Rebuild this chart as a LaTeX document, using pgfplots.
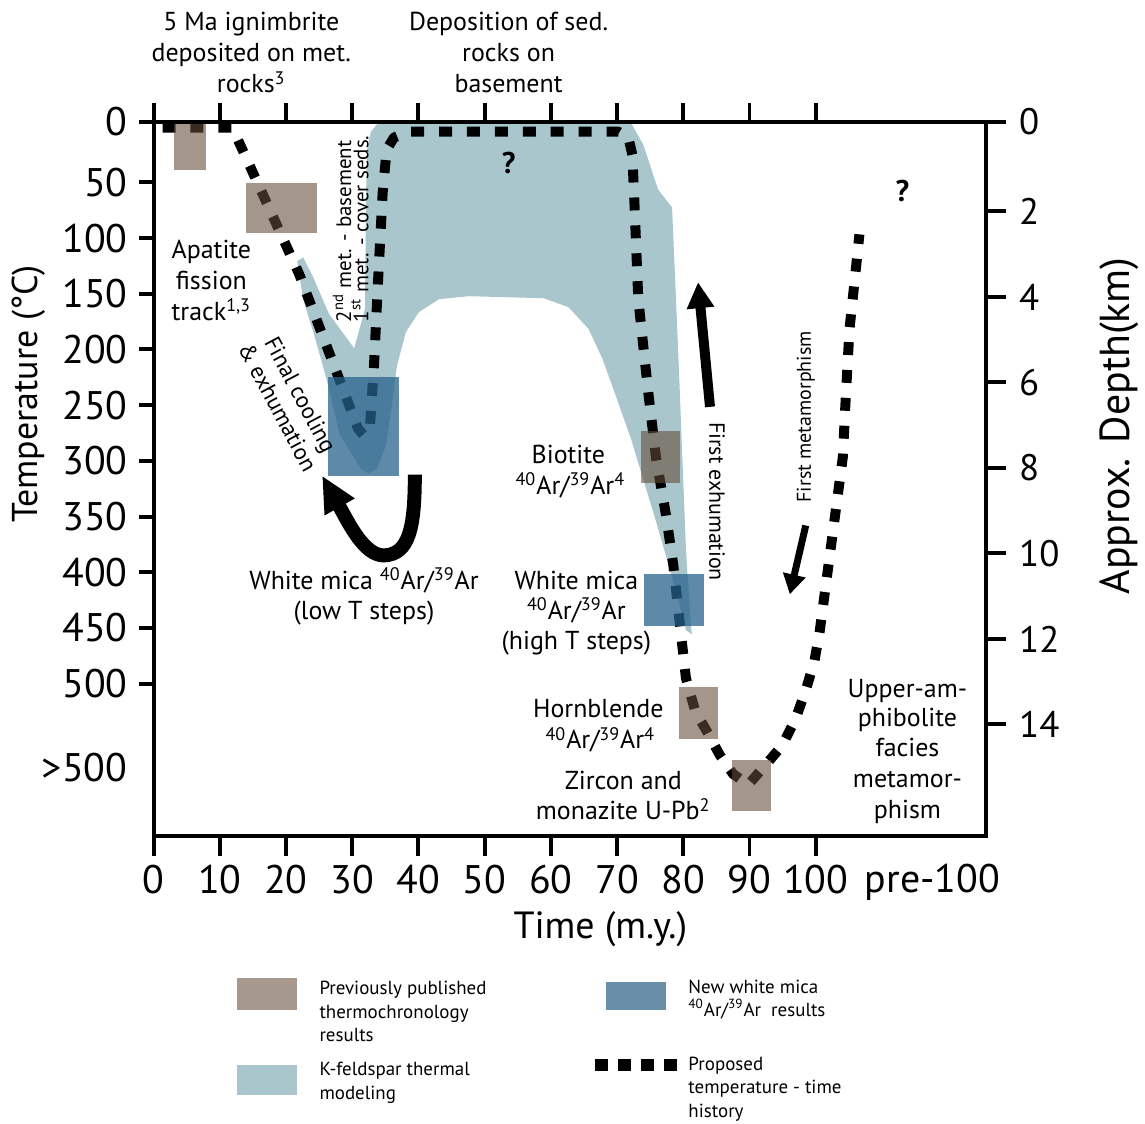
\documentclass[border=0pt]{standalone}
\usepackage{pgfplots}
\pgfplotsset{compat=1.18}
\usepackage{fontspec}
\setmainfont{PT Sans}
\usetikzlibrary{arrows.meta}
\definecolor{brownbox}{RGB}{100,76,56}
\definecolor{kfs}{RGB}{169,198,204}
\definecolor{bluebox}{RGB}{40,98,140}
\definecolor{brownleg}{RGB}{166,152,140}
\definecolor{blueleg}{RGB}{104,142,168}
\newcommand{\fs}[2]{\fontsize{#1}{#2}\selectfont}
\newcommand{\ArAr}{\textsuperscript{40}Ar/\textsuperscript{39}Ar}
\begin{document}
\begin{tikzpicture}
\begin{scope}[x=0.5pt,y=-0.5pt]
\path[use as bounding box] (0,0) rectangle (1145,1127);
\end{scope}
% main axis: time vs temperature
\begin{axis}[
  at={(77pt,-419pt)}, anchor=south west,
  width=417.5pt, height=358pt, scale only axis,
  xmin=0, xmax=125.75, ymin=-4.5, ymax=636.5, y dir=reverse,
  axis on top,
  axis line style={line width=2pt},
  major tick length=0pt,
  xtick={0,10,20,30,40,50,60,70,80,90,100},
  xticklabels={0,10,20,30,40,50,60,70,80,90,100},
  xticklabel pos=lower,
  ytick={-4.5,50,100,150,200,250,300,350,400,450,500},
  yticklabels={0,50,100,150,200,250,300,350,400,450,500},
  ytick pos=left,
  tick label style={font=\fs{20}{24}},
  xticklabel style={yshift=-11pt},
  yticklabel style={xshift=-9.5pt},
  /pgf/number format/assume math mode=true,
]
% K-feldspar thermal modeling envelope
\addplot[fill=kfs, draw=none] coordinates {
 (21.69,120.9) (22.59,117.3) (24.10,135.2) (26.51,168.3) (30.3,199.0)
 (31.93,163.8) (32.08,65.4) (32.23,20.6) (32.83,4.5) (33.7,-1.8) (34.8,-4.5)
 (72.0,-4.5) (73.95,16.1) (76.2,56.4) (78.3,72.5) (78.9,154.9) (79.4,226.5)
 (79.8,289.2) (80.4,378.7) (81.0,436.9) (81.3,455.7) (80.4,452.1) (78.8,414.5)
 (75.75,351.8) (72.1,280.2) (69.7,239.9) (67.8,208.6) (65.7,181.7) (62.65,162.0)
 (58.9,154.0) (47.6,152.2) (43.1,154.9) (40.06,166.5) (38.1,184.4) (36.75,214.9)
 (36.0,248.9) (35.1,286.5) (33.7,307.1) (32.5,311.5) (31.3,307.1) (28.1,276)
 (26.1,226) (24.4,190) (22.6,155)
};
% proposed temperature-time history
\addplot[black, line width=5pt, dash pattern=on 6.5pt off 7.5pt, line join=round] coordinates {
 (1.36,0.9) (11.9,0.9) (22.0,132.5) (30.9,271.3) (31.8,277.5) (32.7,266.8)
 (33.3,213.1) (33.9,138.8) (34.6,59.1) (35.2,20.6) (36.3,9.8) (38.55,4.5)
 (70.2,4.5) (71.7,9.8) (72.3,25.1) (72.6,65.4) (73.2,154.9) (74.7,238.1)
 (75.9,298.1) (77.4,349.1) (78.5,393.9) (79.5,447.6) (80.4,495.1) (81.8,524.6)
 (83.7,544.3) (85.5,564.0) (87.5,581.0) (89.8,590.9) (92.3,573.9) (95.0,555.1)
 (97.0,530.9) (98.5,505.8) (99.8,479.9) (100.6,453.0) (101.8,399.3) (103.0,345.6)
 (104.1,296.3) (104.5,247.1) (105.1,181.7) (105.9,137.0) (106.6,96.7)
};
% previously published thermochronology results
\addplot[fill=brownbox, fill opacity=0.59, draw=none] coordinates {(3.16,-4.5)(7.98,-4.5)(7.98,38.5)(3.16,38.5)};
\addplot[fill=brownbox, fill opacity=0.59, draw=none] coordinates {(14.0,51.0)(24.7,51.0)(24.7,95.8)(14.0,95.8)};
\addplot[fill=brownbox, fill opacity=0.59, draw=none] coordinates {(73.6,273.1)(79.5,273.1)(79.5,319.6)(73.6,319.6)};
\addplot[fill=brownbox, fill opacity=0.59, draw=none] coordinates {(79.4,503.1)(85.2,503.1)(85.2,549.7)(79.4,549.7)};
\addplot[fill=brownbox, fill opacity=0.59, draw=none] coordinates {(87.3,568.5)(93.2,568.5)(93.2,614.2)(87.3,614.2)};
% new white mica results
\addplot[fill=bluebox, fill opacity=0.75, draw=none] coordinates {(26.4,224.7)(37.0,224.7)(37.0,313.3)(26.4,313.3)};
\addplot[fill=bluebox, fill opacity=0.75, draw=none] coordinates {(74.1,402.0)(83.1,402.0)(83.1,448.5)(74.1,448.5)};
\end{axis}
% depth axis
\begin{axis}[
  at={(77pt,-419pt)}, anchor=south west,
  width=417.5pt, height=358pt, scale only axis,
  xmin=0, xmax=125.75, ymin=-0.1, ymax=16.6, y dir=reverse,
  hide x axis, axis y line*=right,
  axis line style={-, line width=2pt},
  major tick length=0pt,
  ytick={-0.1,2,4,6,8,10,12,14},
  yticklabels={0,2,4,6,8,10,12,14},
  tick label style={font=\fs{18.5}{22}},
  yticklabel style={xshift=13pt},
  /pgf/number format/assume math mode=true,
]
\end{axis}
\begin{scope}[x=0.5pt,y=-0.5pt]
% tick marks
\foreach \xx in {154,220.4,286.8,353.2,419.6,486,552.4,618.8,685.2,751.6,818} {
  \fill[black] (\xx-2,838) rectangle (\xx+2,858);
  \fill[black] (\xx-2,122) rectangle (\xx+2,103);
}
\fill[black] (139,120) rectangle (154,124);
\foreach \yy in {182.9,238.7,294.6,350.4,406.3,462.1,518.0,573.8,629.7,685.5} {
  \fill[black] (139,\yy-2) rectangle (154,\yy+2);
}
\fill[black] (989,120) rectangle (1009,124);
\foreach \yy in {212.0,297.7,383.5,469.2,554.9,640.7,726.4} {
  \fill[black] (989,\yy-2) rectangle (1009,\yy+2);
}
% tick labels without ticks
\node[anchor=east, font=\fs{20}{24}, inner sep=0pt] at (128,770) {>500};
\node[font=\fs{20}{24}] at (935,885) {pre-100};
% axis titles
\node[rotate=90, font=\fs{18}{22}] at (29,395) {Temperature (°C)};
\node[rotate=90, font=\fs{21}{25}] at (1122,427) {Approx. Depth(km)};
\node[font=\fs{19}{23}] at (602,932) {Time (m.y.)};
% annotations
\begin{scope}[every node/.style={anchor=base, font=\fs{13}{15}}]
\node at (252,31) {5 Ma ignimbrite};
\node at (252,62) {deposited on met.};
\node at (252,93) {rocks\textsuperscript{3}};
\node at (510,31) {Deposition of sed.};
\node at (510,62) {rocks on};
\node at (510,93) {basement};
\node at (212,259) {Apatite};
\node at (212,290) {fission};
\node at (212,321) {track\textsuperscript{1,3}};
\node at (365,591) {White mica \ArAr};
\node at (365,621) {(low T steps)};
\node at (570,465) {Biotite};
\node at (572,496) {\ArAr\textsuperscript{4}};
\node at (578,591) {White mica};
\node at (578,621) {\ArAr};
\node at (578,651) {(high T steps)};
\node at (600,720) {Hornblende};
\node at (602,751) {\ArAr\textsuperscript{4}};
\node at (625,792) {Zircon and};
\node at (625,822) {monazite U-Pb\textsuperscript{2}};
\node at (910,699) {Upper-am-};
\node at (910,729) {phibolite};
\node at (910,759) {facies};
\node at (910,790) {metamor-};
\node at (910,821) {phism};
\end{scope}
\node[rotate=90, anchor=west, font=\fs{10.5}{12}] at (343,330) {2\textsuperscript{nd} met. - basement};
\node[rotate=90, anchor=west, font=\fs{10.5}{12}] at (361,330) {1\textsuperscript{st} met. - cover seds.};
\node[rotate=-62, align=center, font=\fs{11.5}{13}] at (290,402) {Final cooling\\\& exhumation};
\node[rotate=-90, font=\fs{11}{13}] at (719,503) {First exhumation};
\node[rotate=90, font=\fs{10}{12}] at (808,418) {First metamorphism};
\node[font=\bfseries\fs{15}{18}] at (510,163) {?};
\node[font=\bfseries\fs{15}{18}] at (905,192) {?};
% arrows
\draw[line width=7pt, -{Triangle[width=16pt,length=18pt]}] (416,476) .. controls (416,530) and (410,556) .. (385,557) .. controls (365,557) and (350,525) .. (323,477);
\draw[line width=5pt, -{Triangle[width=13pt,length=13pt]}] (712,408) -- (700,283);
\draw[line width=3.5pt, -{Triangle[width=11pt,length=10pt]}] (808,527) -- (792,596);
% legend
\fill[brownleg] (238,981) rectangle (298,1013);
\fill[kfs] (238,1068) rectangle (298,1098);
\fill[blueleg] (608,985) rectangle (668,1013);
\draw[black, line width=6pt, dash pattern=on 6.5pt off 5pt] (597,1068) -- (681,1068);
\begin{scope}[every node/.style={anchor=base west, inner sep=0pt, font=\fs{9.5}{11}}]
\node at (320,997) {Previously published};
\node at (320,1021) {thermochronology};
\node at (320,1044) {results};
\node at (320,1079) {K-feldspar thermal};
\node at (320,1103) {modeling};
\node at (690,996) {New white mica};
\node at (690,1019) {\ArAr{}\ \ results};
\node at (690,1074) {Proposed};
\node at (690,1097) {temperature - time};
\node at (690,1121) {history};
\end{scope}
\end{scope}
\end{tikzpicture}
\end{document}
